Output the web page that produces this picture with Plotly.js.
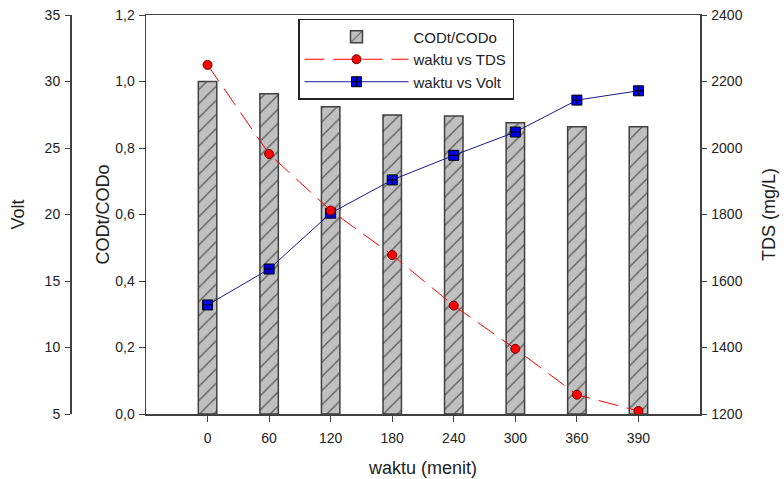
<!DOCTYPE html>
<html>
<head>
<meta charset="utf-8">
<script src="https://cdn.plot.ly/plotly-3.0.1.min.js"></script>
<style>html,body{margin:0;padding:0;background:#fff;}#chart{width:784px;height:479px;}</style>
</head>
<body>
<div id="chart"></div>
<script>
const waktu = ['0', '60', '120', '180', '240', '300', '360', '390'];
const codRatio = [1.00, 0.963, 0.924, 0.899, 0.896, 0.876, 0.864, 0.864];
const tds = [2250, 1982, 1812, 1678, 1526, 1396, 1258, 1209];
const volt = [13.2, 15.9, 20.1, 22.6, 24.45, 26.2, 28.6, 29.3];

const axisColor = '#404040';
const textColor = '#222222';
const W = 784;

const traces = [
  {
    type: 'bar', name: 'CODt/CODo', x: waktu, y: codRatio, yaxis: 'y', width: 0.3,
    marker: {
      color: '#c0c0c0',
      line: {color: '#404040', width: 1.5},
      pattern: {shape: '/', fgcolor: '#000000', bgcolor: '#c0c0c0', fillmode: 'overlay', size: 10, solidity: 0.14}
    }
  },
  {
    type: 'scatter', mode: 'lines+markers', name: 'waktu vs TDS', x: waktu, y: tds, yaxis: 'y3',
    line: {color: '#ff0000', width: 1, dash: '20px,9px'},
    marker: {symbol: 'circle', size: 9, color: '#ff0000', line: {color: '#6a0000', width: 1}}
  },
  {
    type: 'scatter', mode: 'lines+markers', name: 'waktu vs Volt', x: waktu, y: volt, yaxis: 'y2',
    line: {color: '#1a1a90', width: 1},
    marker: {symbol: 'square-cross', size: 10, color: '#0000ff', line: {color: '#000000', width: 1}}
  }
];

const FONT = 'Liberation Sans, Arial, sans-serif';
const tickFont = {family: FONT, size: 14, color: textColor};
const titleFont = {family: FONT, size: 18, color: textColor};

const layout = {
  width: 784, height: 479,
  margin: {l: 0, r: 0, t: 15, b: 65, pad: 0},
  paper_bgcolor: '#ffffff', plot_bgcolor: '#ffffff',
  separators: ',.',
  showlegend: true,
  bargap: 0,
  font: {family: FONT, color: textColor},
  legend: {
    x: 298 / W, y: 0.99, xanchor: 'left', yanchor: 'top',
    bordercolor: '#222222', borderwidth: 1.5, bgcolor: '#ffffff',
    font: {family: FONT, size: 15, color: textColor},
    itemwidth: 104, tracegroupgap: 0, traceorder: 'normal'
  },
  xaxis: {
    type: 'category', categoryorder: 'array', categoryarray: waktu,
    domain: [146 / W, 700 / W], range: [-1, 8], anchor: 'y',
    showline: true, linecolor: axisColor, linewidth: 1.5, mirror: true,
    ticks: 'outside', ticklen: 6, tickcolor: axisColor, tickwidth: 1,
    ticklabelstandoff: 5,
    showgrid: false, zeroline: false, tickfont: tickFont,
    title: {text: 'waktu (menit)', font: titleFont, standoff: 16}
  },
  yaxis: {
    range: [0, 1.2], dtick: 0.2, tick0: 0, tickformat: '.1f',
    showline: true, linecolor: axisColor, linewidth: 1.5,
    ticks: 'outside', ticklen: 6, tickcolor: axisColor,
    ticklabelstandoff: 1,
    showgrid: false, zeroline: false, tickfont: tickFont,
    title: {text: 'CODt/CODo', font: titleFont, standoff: 1}
  },
  yaxis2: {
    overlaying: 'y', anchor: 'free', position: 70 / W, side: 'left',
    range: [5, 35], dtick: 5, tick0: 5,
    showline: true, linecolor: axisColor, linewidth: 1.5,
    ticks: 'outside', ticklen: 5, tickcolor: axisColor,
    ticklabelstandoff: 2,
    showgrid: false, zeroline: false, tickfont: tickFont,
    title: {text: 'Volt', font: titleFont, standoff: 14}
  },
  yaxis3: {
    overlaying: 'y', anchor: 'x', side: 'right',
    range: [1200, 2400], dtick: 200, tick0: 1200,
    showline: true, linecolor: axisColor, linewidth: 1.5,
    ticks: 'outside', ticklen: 5, tickcolor: axisColor,
    ticklabelstandoff: 2,
    showgrid: false, zeroline: false, tickfont: tickFont,
    title: {text: 'TDS (mg/L)', font: titleFont, standoff: 20}
  }
};

Plotly.newPlot('chart', traces, layout, {staticPlot: true, displayModeBar: false});
</script>
</body>
</html>
